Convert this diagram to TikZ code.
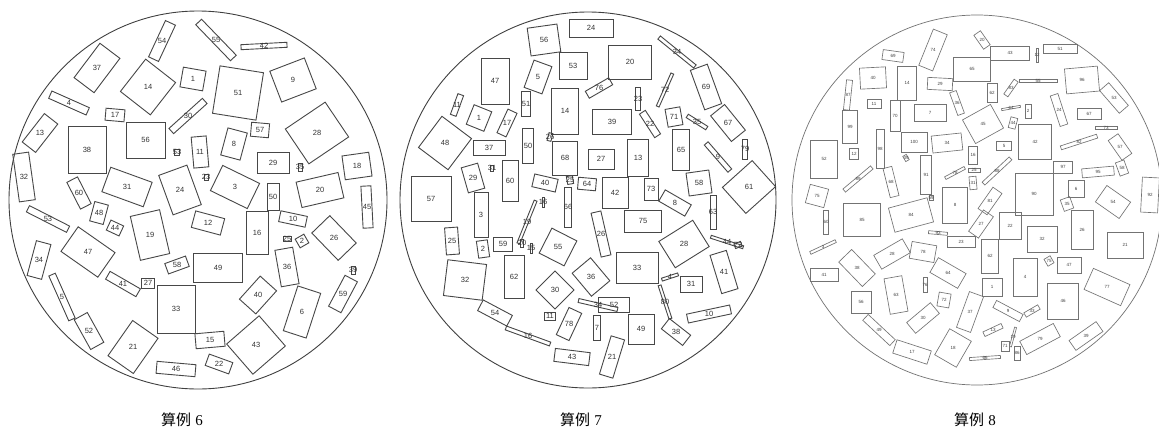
\documentclass[tikz,border=0pt]{standalone}
\usepackage{fontspec}
\setmainfont{Liberation Sans}
\newfontfamily\cjk{Noto Sans CJK SC}
\newfontfamily\serifdigits{Liberation Serif}
\newcommand\rbx[8]{%
  \node[#1,minimum width=#5pt,minimum height=#6pt,rotate=#7] (#2) at (#3,#4) {};
  \node[#1t] (#2t) at (#3,#4) {#8};}
\tikzset{
  bA/.style={draw=black!72,line width=0.9pt,inner sep=0pt,outer sep=0pt},
  bAt/.style={font=\fontsize{7.5}{8}\selectfont,inner sep=0pt,text=black!80},
  bC/.style={draw=black!55,line width=0.65pt,inner sep=0pt,outer sep=0pt},
  bCt/.style={font=\fontsize{4.5}{5}\selectfont,inner sep=0pt,text=black!75},
  circ/.style={draw=black!75,line width=0.9pt},
  circC/.style={draw=black!55,line width=0.7pt},
  captxt/.style={font=\fontsize{15}{17}\selectfont,inner sep=0pt}
}
\begin{document}
\begin{tikzpicture}[x=1pt,y=-1pt]
\useasboundingbox (0,0) rectangle (1159,434);
\fill[white] (0,0) rectangle (1159,434);
% circles
\draw[circ] (198,200) circle[radius=189pt];
\draw[circ] (588,200) circle[radius=188pt];
\draw[circC] (977,200) circle[radius=185pt];
% ---------- case 6 ----------
\rbx{bA}{a54}{162}{41}{11}{40}{-25}{54}
\rbx{bA}{a37}{97}{68}{25}{43}{-37}{37}
\rbx{bA}{a4}{69}{103}{41}{8}{-24}{4}
\rbx{bA}{a13}{40}{133}{17}{36}{-38}{13}
\rbx{bA}{a32}{24}{177}{16}{48}{8}{32}
\rbx{bA}{a38}{87}{150}{38}{47}{0}{38}
\rbx{bA}{a56}{145.5}{140}{39}{36}{0}{56}
\rbx{bA}{a17}{115}{115}{19}{12}{-5}{17}
\rbx{bA}{a14}{148}{87}{38}{41}{-38}{14}
\rbx{bA}{a1}{193}{79}{23}{20}{-10}{1}
\rbx{bA}{a30}{188}{116}{45}{7}{42}{30}
\rbx{bA}{a53s}{177}{152}{5}{6}{0}{53}
\rbx{bA}{a11}{200}{152}{15}{31}{5}{11}
\rbx{bA}{a24}{180}{190}{30}{42}{20}{24}
\rbx{bA}{a31}{127}{187}{44}{26}{-20}{31}
\rbx{bA}{a60}{79}{193}{12}{30}{27}{60}
\rbx{bA}{a53}{48}{219}{45}{7}{-27}{53}
\rbx{bA}{a48}{99}{213}{14}{20}{-15}{48}
\rbx{bA}{a44}{115}{228}{14}{11}{-25}{44}
\rbx{bA}{a19}{150}{235}{30}{45}{13}{19}
\rbx{bA}{a47}{88}{252}{45}{30}{-35}{47}
\rbx{bA}{a34}{39}{260}{15}{36}{-15}{34}
\rbx{bA}{a58}{177}{265}{22}{11}{20}{58}
\rbx{bA}{a27}{148}{283}{13}{10}{0}{27}
\rbx{bA}{a41}{123}{284}{35}{9}{-30}{41}
\rbx{bA}{a33}{176}{309}{38}{48}{0}{33}
\rbx{bA}{a5}{62}{297}{7}{49}{24}{5}
\rbx{bA}{a52}{89}{331}{15}{34}{29}{52}
\rbx{bA}{a21}{133}{347}{31}{43}{-35}{21}
\rbx{bA}{a46}{176}{369}{39}{12}{-5}{46}
\rbx{bA}{a55}{216}{40}{50}{8}{-46}{55}
\rbx{bA}{a42}{264}{46}{46}{5}{3}{42}
\rbx{bA}{a51}{238}{93}{44}{48}{-9}{51}
\rbx{bA}{a9}{293}{80}{37}{33}{21}{9}
\rbx{bA}{a57}{260}{130}{18}{14}{-5}{57}
\rbx{bA}{a8}{234}{144}{20}{28}{-15}{8}
\rbx{bA}{a28}{317}{133}{48}{42}{34}{28}
\rbx{bA}{a29}{273}{163}{32}{21}{0}{29}
\rbx{bA}{a35}{300}{167}{4}{8}{0}{35}
\rbx{bA}{a18}{357}{166}{27}{24}{8}{18}
\rbx{bA}{a3}{235}{187}{41}{28}{-26}{3}
\rbx{bA}{a23}{206}{177}{4}{6}{0}{23}
\rbx{bA}{a50}{273}{197}{12}{27}{0}{50}
\rbx{bA}{a20}{320}{190}{43}{26}{13}{20}
\rbx{bA}{a45}{367}{207}{10}{42}{3}{45}
\rbx{bA}{a12}{208}{223}{30}{17}{-15}{12}
\rbx{bA}{a16}{257}{233}{22}{43}{0}{16}
\rbx{bA}{a10}{293}{219}{27}{11}{-12}{10}
\rbx{bA}{a25}{287}{239}{8}{5}{0}{25}
\rbx{bA}{a2}{302}{241}{10}{10}{30}{2}
\rbx{bA}{a26}{334}{238}{38}{25}{-46}{26}
\rbx{bA}{a49}{218}{268}{49}{29}{0}{49}
\rbx{bA}{a36}{287}{267}{18}{37}{10}{36}
\rbx{bA}{a6}{302}{312}{24}{47}{-18}{6}
\rbx{bA}{a39}{353}{270}{4}{8}{0}{39}
\rbx{bA}{a59}{343}{294}{14}{35}{-28}{59}
\rbx{bA}{a40}{258}{295}{22}{31}{-42}{40}
\rbx{bA}{a43}{256}{345}{43}{40}{41}{43}
\rbx{bA}{a15}{210}{340}{29}{15}{5}{15}
\rbx{bA}{a22}{219}{364}{25}{12}{-20}{22}
% ---------- case 7 ----------
\rbx{bA}{b56}{544}{40}{30}{28}{8}{56}
\rbx{bA}{b24}{591}{28}{44}{18}{0}{24}
\rbx{bA}{b53}{573}{66}{28}{27}{0}{53}
\rbx{bA}{b5}{538}{77}{19}{29}{-20}{5}
\rbx{bA}{b47}{495}{81}{28}{46}{0}{47}
\rbx{bA}{b51}{526}{104}{9}{25}{0}{51}
\rbx{bA}{b14}{565}{111}{27}{46}{0}{14}
\rbx{bA}{b11}{457}{105}{6}{22}{-20}{11}
\rbx{bA}{b1}{479}{118}{19}{21}{-22}{1}
\rbx{bA}{b17}{507}{123}{10}{26}{-25}{17}
\rbx{bA}{b48}{445}{143}{37}{39}{-37}{48}
\rbx{bA}{b37}{489}{148}{32}{15}{0}{37}
\rbx{bA}{b50}{528}{146}{11}{35}{0}{50}
\rbx{bA}{b26s}{550}{137}{4}{8}{-15}{26}
\rbx{bA}{b68}{565}{158}{25}{34}{0}{68}
\rbx{bA}{b29}{473}{178}{17}{26}{16}{29}
\rbx{bA}{b31s}{492}{168}{3}{6}{0}{31}
\rbx{bA}{b60}{510}{181}{16}{41}{0}{60}
\rbx{bA}{b40}{545}{183}{24}{13}{-13}{40}
\rbx{bA}{b57}{431}{199}{40}{45}{0}{57}
\rbx{bA}{b16s}{543}{202}{2}{10}{0}{16}
\rbx{bA}{b66}{568}{207}{7}{40}{0}{66}
\rbx{bA}{b25s}{570}{180}{6}{8}{10}{25}
\rbx{bA}{b64}{587}{184}{18}{12}{-5}{64}
\rbx{bA}{b3}{481}{215}{14}{45}{0}{3}
\rbx{bA}{b19}{527}{222}{46}{3}{68}{19}
\rbx{bA}{b20}{630}{62}{43}{34}{0}{20}
\rbx{bA}{b34}{677}{52}{46}{4}{-39}{34}
\rbx{bA}{b76}{599}{88}{27}{8}{30}{76}
\rbx{bA}{b23}{638}{99}{5}{23}{0}{23}
\rbx{bA}{b72}{665}{90}{36}{3}{66}{72}
\rbx{bA}{b39}{612}{122}{39}{25}{0}{39}
\rbx{bA}{b22}{650}{124}{7}{28}{33}{22}
\rbx{bA}{b71}{674}{117}{15}{18}{10}{71}
\rbx{bA}{b35}{697}{122}{23}{4}{-32}{35}
\rbx{bA}{b69}{706}{87}{18}{42}{20}{69}
\rbx{bA}{b67}{728}{123}{18}{33}{39}{67}
\rbx{bA}{b13}{638}{158}{21}{37}{0}{13}
\rbx{bA}{b27}{601}{159}{26}{20}{0}{27}
\rbx{bA}{b65}{681}{150}{17}{41}{0}{65}
\rbx{bA}{b9}{718}{157}{36}{5}{-49}{9}
\rbx{bA}{b79}{745}{149}{5}{20}{0}{79}
\rbx{bA}{b42}{615}{193}{26}{31}{0}{42}
\rbx{bA}{b73}{651}{189}{14}{22}{0}{73}
\rbx{bA}{b58}{699}{183}{23}{23}{8}{58}
\rbx{bA}{b61}{749}{187}{40}{35}{42}{61}
\rbx{bA}{b8}{675}{203}{30}{13}{-30}{8}
\rbx{bA}{b63}{713}{212}{6}{34}{0}{63}
\rbx{bA}{b75}{643}{221}{37}{22}{0}{75}
\rbx{bA}{b25}{452}{241}{13}{27}{4}{25}
\rbx{bA}{b2}{483}{249}{11}{17}{8}{2}
\rbx{bA}{b59}{503}{244}{19}{14}{0}{59}
\rbx{bA}{b20s}{522}{243}{3}{8}{0}{20}
\rbx{bA}{b15}{531}{248}{2}{10}{0}{15}
\rbx{bA}{b55}{558}{247}{28}{28}{-27}{55}
\rbx{bA}{b32}{465}{280}{39}{36}{-7}{32}
\rbx{bA}{b62}{514}{277}{20}{43}{0}{62}
\rbx{bA}{b30}{555}{290}{27}{27}{45}{30}
\rbx{bA}{b54}{495}{313}{33}{12}{-28}{54}
\rbx{bA}{b11s}{550}{316}{11}{8}{0}{11}
\rbx{bA}{b78}{569}{324}{14}{30}{-25}{78}
\rbx{bA}{b16}{528}{336}{47}{4}{-20}{16}
\rbx{bA}{b43}{572}{357}{35}{13}{-7}{43}
\rbx{bA}{b36}{591}{277}{30}{24}{-50}{36}
\rbx{bA}{b34s}{598}{305}{40}{4}{-13}{34}
\rbx{bA}{b26}{601}{234}{10}{45}{13}{26}
\rbx{bA}{b33}{637}{268}{42}{31}{0}{33}
\rbx{bA}{b28}{684}{244}{40}{31}{32}{28}
\rbx{bA}{b44}{727}{242}{34}{3}{-18}{44}
\rbx{bA}{b72s}{738}{245}{7}{5}{20}{72}
\rbx{bA}{b41}{724}{272}{17}{40}{17}{41}
\rbx{bA}{b4}{670}{277}{17}{3}{18}{4}
\rbx{bA}{b31}{691}{284}{22}{16}{0}{31}
\rbx{bA}{b80}{665}{302}{35}{3}{-72}{80}
\rbx{bA}{b52}{614}{305}{31}{15}{0}{52}
\rbx{bA}{b7}{597}{328}{7}{25}{0}{7}
\rbx{bA}{b49}{641}{329}{26}{30}{0}{49}
\rbx{bA}{b38}{676}{332}{27}{13}{-38}{38}
\rbx{bA}{b10}{709}{314}{44}{9}{12}{10}
\rbx{bA}{b21}{612}{357}{14}{40}{-17}{21}
% ---------- case 8 ----------
\rbx{bC}{c74}{933}{50}{15}{39}{-22}{74}
\rbx{bC}{c69}{893}{56}{21}{10}{-8}{69}
\rbx{bC}{c40}{873}{78}{26}{21}{3}{40}
\rbx{bC}{c14}{907}{83}{19}{34}{0}{14}
\rbx{bC}{c29}{940}{84}{25}{12}{-3}{29}
\rbx{bC}{c65}{972}{69}{37}{24}{0}{65}
\rbx{bC}{c87}{848}{95}{6}{30}{-6}{87}
\rbx{bC}{c11}{874}{104}{14}{9}{0}{11}
\rbx{bC}{c70}{895}{116}{10}{31}{0}{70}
\rbx{bC}{c7}{930}{113}{32}{17}{0}{7}
\rbx{bC}{c36}{957}{103}{7}{24}{20}{36}
\rbx{bC}{c99}{850}{127}{15}{33}{0}{99}
\rbx{bC}{c100}{914}{142}{26}{20}{0}{100}
\rbx{bC}{c34}{947}{143}{30}{17}{6}{34}
\rbx{bC}{c98}{880}{149}{8}{39}{0}{98}
\rbx{bC}{c12}{854}{154}{9}{11}{0}{12}
\rbx{bC}{c52}{824}{159}{27}{38}{0}{52}
\rbx{bC}{c89}{858}{179}{36}{4}{40}{89}
\rbx{bC}{c39s}{906}{158}{4}{6}{30}{39}
\rbx{bC}{c68}{891}{182}{9}{30}{14}{68}
\rbx{bC}{c91}{926}{175}{11}{39}{0}{91}
\rbx{bC}{c59}{931}{198}{4}{5}{0}{59}
\rbx{bC}{c78}{955}{173}{22}{3}{28}{78}
\rbx{bC}{c75}{817}{196}{19}{19}{-15}{75}
\rbx{bC}{c8}{955}{205}{25}{36}{0}{8}
\rbx{bC}{c85}{862}{220}{37}{33}{0}{85}
\rbx{bC}{c84}{911}{215}{40}{25}{15}{84}
\rbx{bC}{c60}{826}{222}{5}{24}{0}{60}
\rbx{bC}{c3}{823}{247}{28}{3}{25}{3}
\rbx{bC}{c20}{982}{40}{8}{17}{35}{20}
\rbx{bC}{c43}{1010}{53}{39}{14}{0}{43}
\rbx{bC}{c12b}{1037}{55}{2}{14}{0}{12}
\rbx{bC}{c51}{1060}{49}{34}{9}{0}{51}
\rbx{bC}{c96}{1082}{80}{33}{25}{5}{96}
\rbx{bC}{c55}{1038}{81}{38}{3}{0}{55}
\rbx{bC}{c83}{1011}{88}{18}{5}{55}{83}
\rbx{bC}{c62s}{992}{93}{10}{19}{0}{62}
\rbx{bC}{c53}{1114}{98}{12}{30}{41}{53}
\rbx{bC}{c24}{1059}{110}{8}{32}{18}{24}
\rbx{bC}{c67}{1089}{114}{24}{11}{0}{67}
\rbx{bC}{c64s}{1011}{108}{19}{2}{10}{64}
\rbx{bC}{c2}{1028}{111}{6}{14}{0}{2}
\rbx{bC}{c44}{1013}{123}{7}{11}{-15}{44}
\rbx{bC}{c45}{983}{124}{32}{27}{29}{45}
\rbx{bC}{c73}{1106}{128}{22}{3}{0}{73}
\rbx{bC}{c42}{1035}{142}{33}{35}{0}{42}
\rbx{bC}{c5}{1004}{146}{15}{9}{0}{5}
\rbx{bC}{c82}{1079}{142}{38}{4}{18}{82}
\rbx{bC}{c57}{1120}{147}{12}{24}{35}{57}
\rbx{bC}{c16}{973}{155}{9}{18}{0}{16}
\rbx{bC}{c25}{974}{170}{12}{4}{0}{25}
\rbx{bC}{c31}{973}{183}{7}{13}{5}{31}
\rbx{bC}{c88}{997}{171}{37}{4}{43}{88}
\rbx{bC}{c97}{1063}{167}{19}{12}{0}{97}
\rbx{bC}{c90}{1034}{194}{38}{42}{0}{90}
\rbx{bC}{c95}{1098}{172}{32}{9}{5}{95}
\rbx{bC}{c58}{1122}{168}{9}{14}{20}{58}
\rbx{bC}{c6}{1076}{189}{16}{17}{0}{6}
\rbx{bC}{c54}{1113}{202}{29}{20}{-35}{54}
\rbx{bC}{c92}{1150}{195}{17}{35}{-3}{92}
\rbx{bC}{c81}{990}{201}{11}{26}{-35}{81}
\rbx{bC}{c27}{981}{224}{12}{26}{-35}{27}
\rbx{bC}{c35}{1067}{204}{10}{12}{20}{35}
\rbx{bC}{c41}{824}{275}{28}{13}{0}{41}
\rbx{bC}{c38}{857}{268}{34}{18}{-46}{38}
\rbx{bC}{c28}{892}{254}{33}{16}{30}{28}
\rbx{bC}{c78b}{923}{252}{25}{17}{-10}{78}
\rbx{bC}{c93}{938}{233}{19}{3}{-5}{93}
\rbx{bC}{c23}{961}{242}{28}{11}{0}{23}
\rbx{bC}{c64}{948}{273}{32}{17}{-30}{64}
\rbx{bC}{c63}{896}{295}{18}{36}{10}{63}
\rbx{bC}{c76s}{925}{285}{4}{15}{0}{76}
\rbx{bC}{c56}{861}{302}{20}{22}{0}{56}
\rbx{bC}{c72}{944}{300}{12}{14}{-10}{72}
\rbx{bC}{c30}{923}{318}{31}{14}{40}{30}
\rbx{bC}{c49}{879}{330}{37}{8}{-43}{49}
\rbx{bC}{c17}{912}{352}{36}{14}{-18}{17}
\rbx{bC}{c18}{953}{348}{25}{30}{-30}{18}
\rbx{bC}{c37}{970}{312}{15}{38}{-20}{37}
\rbx{bC}{c22}{1010}{226}{22}{27}{0}{22}
\rbx{bC}{c62}{990}{256}{17}{34}{0}{62}
\rbx{bC}{c32}{1042}{239}{30}{26}{0}{32}
\rbx{bC}{c26}{1082}{230}{22}{39}{0}{26}
\rbx{bC}{c21}{1125}{245}{36}{26}{0}{21}
\rbx{bC}{c4}{1025}{277}{24}{38}{0}{4}
\rbx{bC}{c47}{1069}{265}{24}{16}{0}{47}
\rbx{bC}{c75b}{1049}{261}{7}{8}{30}{75}
\rbx{bC}{c1}{992}{287}{20}{18}{0}{1}
\rbx{bC}{c46}{1063}{301}{31}{36}{0}{46}
\rbx{bC}{c77}{1107}{287}{40}{23}{-24}{77}
\rbx{bC}{c9}{1008}{311}{30}{8}{-28}{9}
\rbx{bC}{c33}{1032}{311}{16}{5}{30}{33}
\rbx{bC}{c13}{993}{330}{20}{5}{25}{13}
\rbx{bC}{c71}{1005}{346}{8}{10}{0}{71}
\rbx{bC}{c19}{1013}{337}{20}{2}{75}{19}
\rbx{bC}{c86}{1017}{353}{6}{14}{0}{86}
\rbx{bC}{c79}{1040}{339}{38}{15}{28}{79}
\rbx{bC}{c39}{1086}{336}{33}{12}{35}{39}
\rbx{bC}{c66}{985}{358}{31}{3}{4}{66}
% captions
\node[captxt] (cap6) at (182,420) {{\cjk 算例} {\serifdigits 6}};
\node[captxt] (cap7) at (581,420) {{\cjk 算例} {\serifdigits 7}};
\node[captxt] (cap8) at (975,420) {{\cjk 算例} {\serifdigits 8}};
\end{tikzpicture}
\end{document}
